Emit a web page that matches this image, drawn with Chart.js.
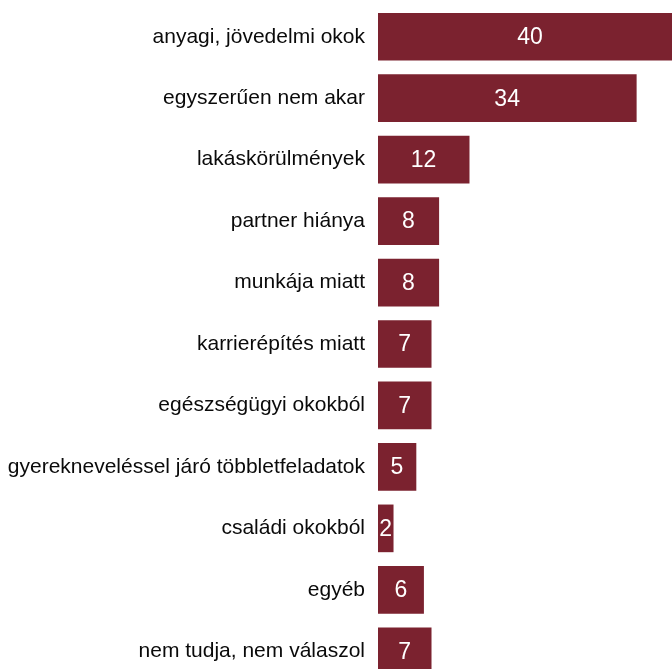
<!DOCTYPE html>
<html>
<head>
<meta charset="utf-8">
<script src="https://cdn.jsdelivr.net/npm/chart.js@4.4.0/dist/chart.umd.min.js"></script>
<style>
html,body{margin:0;padding:0;background:#fff;overflow:hidden;width:672px;height:669px;}
#wrap{position:absolute;left:0;top:0;width:672px;height:682px;}
</style>
</head>
<body>
<div id="wrap"><canvas id="c" width="672" height="682"></canvas></div>
<script>
const categories = [
  "anyagi, jövedelmi okok",
  "egyszerűen nem akar",
  "lakáskörülmények",
  "partner hiánya",
  "munkája miatt",
  "karrierépítés miatt",
  "egészségügyi okokból",
  "gyerekneveléssel járó többletfeladatok",
  "családi okokból",
  "egyéb",
  "nem tudja, nem válaszol"
];
const values = [40, 34, 12, 8, 8, 7, 7, 5, 2, 6, 7];

const barColor = "#7B222F";
const labelFont = "'Liberation Sans', Arial, sans-serif";

const valueLabels = {
  id: 'valueLabels',
  afterDatasetsDraw(chart) {
    const ctx = chart.ctx;
    const meta = chart.getDatasetMeta(0);
    ctx.save();
    ctx.fillStyle = '#ffffff';
    ctx.font = "23px " + labelFont;
    ctx.textAlign = 'center';
    ctx.textBaseline = 'middle';
    meta.data.forEach((bar, i) => {
      const cx = (bar.base + bar.x) / 2;
      ctx.fillText(String(values[i]), cx, bar.y + 1);
    });
    ctx.restore();
  }
};

new Chart(document.getElementById('c'), {
  type: 'bar',
  data: {
    labels: categories,
    datasets: [{
      data: values,
      backgroundColor: barColor,
      borderWidth: 0,
      barThickness: 47
    }]
  },
  options: {
    indexAxis: 'y',
    responsive: false,
    animation: false,
    layout: { padding: { top: 6, bottom: 0, left: 0, right: 0 } },
    plugins: { legend: { display: false }, tooltip: { enabled: false } },
    scales: {
      x: {
        display: false,
        min: 0,
        max: 38.7
      },
      y: {
        grid: { display: false, drawTicks: false },
        border: { display: false },
        ticks: {
          color: '#0a0a0a',
          padding: 13,
          font: { family: labelFont, size: 21 }
        },
        afterFit(scale) {
          scale.width = 378;
          scale.paddingTop = 0;
          scale.paddingBottom = 0;
        }
      }
    }
  },
  plugins: [valueLabels]
});
</script>
</body>
</html>
